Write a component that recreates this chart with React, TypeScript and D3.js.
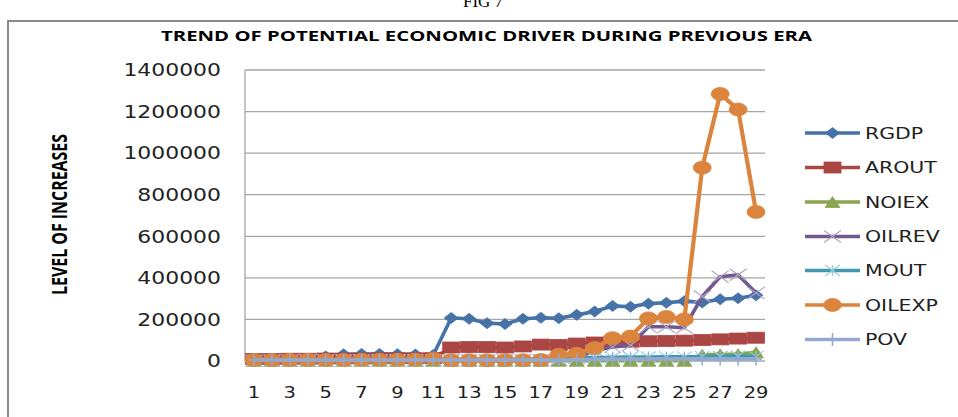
import React from "react";
import * as d3 from "d3";

const categories: number[] = Array.from({ length: 29 }, (_, i) => i + 1);
const xTickLabels: number[] = [1, 3, 5, 7, 9, 11, 13, 15, 17, 19, 21, 23, 25, 27, 29];
const yTicks: number[] = [0, 200000, 400000, 600000, 800000, 1000000, 1200000, 1400000];

const RGDP = [5000, 6000, 7000, 9000, 22000, 32000, 34000, 34000, 33000, 31000, 29000, 207000, 203000, 182000, 178000, 203000, 208000, 206000, 222000, 238000, 265000, 261000, 276000, 280000, 288000, 282000, 297000, 302000, 316000];
const AROUT = [10000, 10000, 11000, 11000, 12000, 12000, 12000, 13000, 13000, 13000, 14000, 65000, 67000, 67000, 65000, 70000, 79000, 77000, 84000, 89000, 91000, 93000, 95000, 96000, 98000, 101000, 104000, 108000, 112000];
const NOIEX = [1000, 1000, 1000, 1000, 1000, 1000, 1000, 1000, 1000, 1000, 1000, 1000, 1000, 1000, 1000, 1000, 1000, 1000, 1000, 1000, 1000, 1000, 1000, 1000, 1000, 30000, 32000, 33000, 42000];
const OILREV = [2000, 2000, 2000, 2000, 2000, 2000, 2000, 2000, 2000, 2000, 3000, 3000, 3000, 3000, 3000, 4000, 4000, 5000, 15000, 50000, 68000, 76000, 165000, 165000, 160000, 310000, 405000, 415000, 327000];
const MOUT = [4000, 4000, 4000, 5000, 5000, 5000, 5000, 6000, 6000, 6000, 6000, 7000, 7000, 7000, 8000, 8000, 9000, 11000, 14000, 17000, 18000, 19000, 19000, 20000, 20000, 22000, 23000, 24000, 22000];
const OILEXP = [5000, 5000, 5000, 5000, 5000, 5000, 6000, 6000, 6000, 7000, 12000, 4000, 4000, 4000, 4000, 4000, 5000, 30000, 35000, 62000, 110000, 118000, 205000, 212000, 200000, 930000, 1285000, 1210000, 717000];
const POV = [5000, 5000, 5000, 5000, 5000, 5000, 5000, 5000, 5000, 5000, 5000, 5000, 5000, 5000, 5000, 5000, 5000, 5000, 6000, 8000, 9000, 9000, 9000, 10000, 10000, 10000, 10000, 10000, 10000];

const seriesNames = ["RGDP", "AROUT", "NOIEX", "OILREV", "MOUT", "OILEXP", "POV"];
const seriesValues = [RGDP, AROUT, NOIEX, OILREV, MOUT, OILEXP, POV];
const lineColors = ["#4572A7", "#AA4643", "#89A54E", "#71588F", "#4198AF", "#DB843D", "#93A9CF"];
const markerKinds = ["diamond", "square", "triangle", "x", "star", "circle", "plus"];
const markerStroke = ["#4572A7", "#AA4643", "#89A54E", "#B3A2C7", "#92CDDC", "#DB843D", "#93A9CF"];

const W = 958;
const H = 417;
const plotLeft = 245;
const plotRight = 765;
const plotTop = 70;
const plotBottom = 361;

function Marker({ kind, x, y, fill, stroke }: { kind: string; x: number; y: number; fill: string; stroke: string }) {
  const t = `translate(${x},${y})`;
  if (kind === "diamond") {
    const w = 14, h = 11;
    return <path transform={t} d={`M0,${-h / 2}L${w / 2},0L0,${h / 2}L${-w / 2},0Z`} fill={fill} stroke={fill} strokeWidth={0.8} />;
  }
  if (kind === "square") {
    const w = 17, h = 11;
    return <rect transform={t} x={-w / 2} y={-h / 2} width={w} height={h} fill={fill} stroke={fill} strokeWidth={0.8} />;
  }
  if (kind === "triangle") {
    const w = 15, h = 11;
    return <path transform={t} d={`M0,${-h / 2}L${w / 2},${h / 2}L${-w / 2},${h / 2}Z`} fill={fill} stroke={fill} strokeWidth={0.8} />;
  }
  if (kind === "circle") {
    return <ellipse transform={t} rx={9} ry={6.5} fill={fill} stroke={fill} strokeWidth={0.8} />;
  }
  if (kind === "x") {
    const w = 17, h = 12;
    return <path transform={t} d={`M${-w / 2},${-h / 2}L${w / 2},${h / 2}M${-w / 2},${h / 2}L${w / 2},${-h / 2}`} fill="none" stroke={stroke} strokeWidth={1.1} />;
  }
  if (kind === "star") {
    const w = 15, h = 11;
    return <path transform={t} d={`M${-w / 2},${-h / 2}L${w / 2},${h / 2}M${-w / 2},${h / 2}L${w / 2},${-h / 2}M0,${-h / 2}V${h / 2}`} fill="none" stroke={stroke} strokeWidth={1.1} />;
  }
  const w = 12, h = 13;
  return <path transform={t} d={`M0,${-h / 2}V${h / 2}M${-w / 2},0H${w / 2}`} fill="none" stroke={stroke} strokeWidth={1.5} />;
}

export default function App() {
  const x = d3.scaleBand<number>().domain(categories).range([plotLeft, plotRight]);
  const cx = (c: number) => (x(c) as number) + x.bandwidth() / 2;
  const y = d3.scaleLinear().domain([0, 1400000]).range([plotBottom, plotTop]);
  const line = d3
    .line<number>()
    .x((_, i) => cx(categories[i]))
    .y((d) => y(d));

  const tickFont = "'DejaVu Sans', Verdana, sans-serif";
  const legendY = [133, 167.5, 202, 236.5, 270.5, 305, 339.5];

  return (
    <svg width={W} height={H} style={{ position: "absolute", left: 0, top: 0, background: "#fff" }}>
      <rect x={0} y={0} width={W} height={H} fill="#fff" />
      <text x={483} y={7} textAnchor="middle" fontFamily="'Liberation Serif', 'Times New Roman', serif" fontSize={17} fill="#000">
        FIG 7
      </text>
      <path d={`M8,${H}V21H${W}`} fill="none" stroke="#8a8a8a" strokeWidth={2} />

      <text
        x={161}
        y={41}
        fontFamily="'Liberation Sans Narrow', 'Open Sans', sans-serif"
        fontWeight="bold"
        fontSize={13.5}
        textLength={651}
        lengthAdjust="spacingAndGlyphs"
        fill="#000"
      >
        TREND OF POTENTIAL ECONOMIC DRIVER DURING PREVIOUS ERA
      </text>

      <text
        transform="translate(67,214.5) rotate(-90)"
        textAnchor="middle"
        fontFamily="'Liberation Sans Narrow', 'Open Sans', sans-serif"
        fontWeight="bold"
        fontSize={22}
        textLength={161}
        lengthAdjust="spacingAndGlyphs"
        fill="#000"
      >
        LEVEL OF INCREASES
      </text>

      {yTicks.filter((v) => v > 0).map((v) => (
        <line key={`g${v}`} x1={plotLeft} x2={plotRight} y1={y(v)} y2={y(v)} stroke="#a6a6a6" strokeWidth={1.3} />
      ))}
      <line x1={plotLeft} x2={plotLeft} y1={plotTop} y2={plotBottom} stroke="#a6a6a6" strokeWidth={1.3} />
      <line x1={plotLeft} x2={plotRight} y1={plotBottom} y2={plotBottom} stroke="#a6a6a6" strokeWidth={1.3} />

      {yTicks.map((v) => (
        <text key={`yt${v}`} transform={`translate(221,${y(v)}) scale(1.26,1)`} textAnchor="end" dy="0.36em" fontFamily={tickFont} fontSize={17.4} fill="#222">
          {v}
        </text>
      ))}

      {xTickLabels.map((c) => (
        <text key={`xt${c}`} transform={`translate(${cx(c)},398) scale(1.22,1)`} textAnchor="middle" fontFamily={tickFont} fontSize={16} fill="#222">
          {c}
        </text>
      ))}

      {seriesValues.map((vals, si) => (
        <g key={seriesNames[si]}>
          <path d={line(vals) as string} fill="none" stroke={lineColors[si]} strokeWidth={si === 5 ? 4.2 : 3.6} strokeLinejoin="round" />
          {vals.map((v, i) => (
            <Marker key={i} kind={markerKinds[si]} x={cx(categories[i])} y={y(v)} fill={lineColors[si]} stroke={markerStroke[si]} />
          ))}
        </g>
      ))}

      {seriesNames.map((name, si) => (
        <g key={`lg${name}`}>
          <line x1={805} x2={860} y1={legendY[si]} y2={legendY[si]} stroke={lineColors[si]} strokeWidth={3.6} />
          <Marker kind={markerKinds[si]} x={832.5} y={legendY[si]} fill={lineColors[si]} stroke={markerStroke[si]} />
          <text transform={`translate(865,${legendY[si]}) scale(1.28,1)`} dy="0.36em" fontFamily={tickFont} fontSize={16} fill="#222">
            {name}
          </text>
        </g>
      ))}
    </svg>
  );
}
